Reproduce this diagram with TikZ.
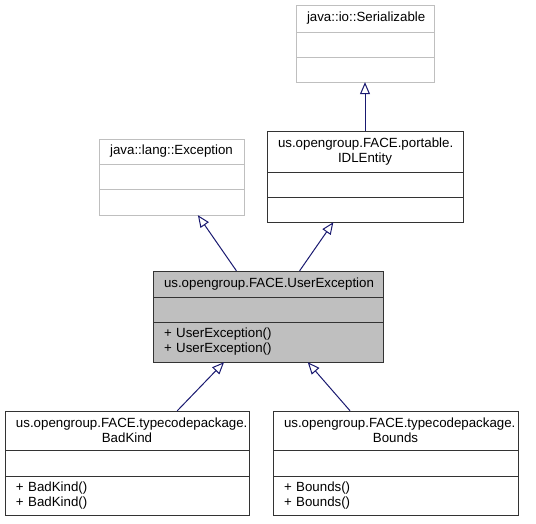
\documentclass[tikz,border=0pt]{standalone}
\usepackage{fontspec}
\setmainfont{Liberation Sans}
\usetikzlibrary{positioning, fit, arrows.meta}
\definecolor{midnightblue}{RGB}{25,25,112}
\newcommand{\extborder}{black!25}
\newcommand{\curfill}{black!25}
\newcommand{\clsborder}{black!80}

\begin{document}
\begin{tikzpicture}[
      % GLOBAL CFG
      x=1pt, y=-1pt,
      font=\fontsize{13.3}{15}\selectfont,
      % Styles
      compartment/.style={% For the parts of a class
        rectangle,
        draw=\clsborder,
        line width=1pt,
        outer sep=0pt,
        inner xsep=11pt,
        inner ysep=0pt
      },
      classname/.style={% For the name part
        compartment,
        align=center,
        anchor=north
      },
      methods/.style={% For the operations part
        compartment,
        align=left
      },
      external/.style={% For classes outside the project
        draw=\extborder
      },
      current/.style={% For the documented class
        fill=\curfill
      },
      inherit/.style={% Arrows for inheritance
        midnightblue,
        line width=1pt,
        -{Triangle[open, length=12pt, width=10pt]}
      }
      ]

      \useasboundingbox (0,0) rectangle (536,523);

      % Start drawing the thing...
      % java::io::Serializable
      \node [classname, external, text width=116pt, minimum height=27pt] (serialname) at (365,5) {java::io::Serializable};
      \node [compartment, external, text width=116pt, minimum height=25pt, below=0pt of serialname] (serialattr) {};
      \node [compartment, external, text width=116pt, minimum height=25pt, below=0pt of serialattr] (serialops) {};
      \node [fit=(serialname)(serialops), inner sep=0pt] (serial) {};

      % us.opengroup.FACE.portable.IDLEntity
      \node [classname, text width=174pt, minimum height=41pt] (idlname) at (365,131) {us.opengroup.FACE.portable.\\IDLEntity};
      \node [compartment, text width=174pt, minimum height=25pt, below=0pt of idlname] (idlattr) {};
      \node [compartment, text width=174pt, minimum height=25pt, below=0pt of idlattr] (idlops) {};
      \node [fit=(idlname)(idlops), inner sep=0pt] (idl) {};

      % java::lang::Exception
      \node [classname, external, text width=123pt, minimum height=25pt] (excname) at (171.5,139) {java::lang::Exception};
      \node [compartment, external, text width=123pt, minimum height=25pt, below=0pt of excname] (excattr) {};
      \node [compartment, external, text width=123pt, minimum height=26pt, below=0pt of excattr] (excops) {};
      \node [fit=(excname)(excops), inner sep=0pt] (exc) {};

      % us.opengroup.FACE.UserException
      \node [classname, current, text width=208pt, minimum height=26pt] (username) at (268,271) {us.opengroup.FACE.UserException};
      \node [compartment, current, text width=208pt, minimum height=25pt, below=0pt of username] (userattr) {};
      \node [methods, current, text width=208pt, minimum height=40pt, below=0pt of userattr] (userops) {+ UserException()\\+ UserException()};
      \node [fit=(username)(userops), inner sep=0pt] (userexc) {};

      % us.opengroup.FACE.typecodepackage.BadKind
      \node [classname, text width=222pt, minimum height=39pt] (badname) at (127,411) {us.opengroup.FACE.typecodepackage.\\BadKind};
      \node [compartment, text width=222pt, minimum height=26pt, below=0pt of badname] (badattr) {};
      \node [methods, text width=222pt, minimum height=39pt, below=0pt of badattr] (badops) {+ BadKind()\\+ BadKind()};
      \node [fit=(badname)(badops), inner sep=0pt] (badkind) {};

      % us.opengroup.FACE.typecodepackage.Bounds
      \node [classname, text width=223pt, minimum height=39pt] (boundsname) at (395.5,411) {us.opengroup.FACE.typecodepackage.\\Bounds};
      \node [compartment, text width=223pt, minimum height=26pt, below=0pt of boundsname] (boundsattr) {};
      \node [methods, text width=223pt, minimum height=39pt, below=0pt of boundsattr] (boundsops) {+ Bounds()\\+ Bounds()};
      \node [fit=(boundsname)(boundsops), inner sep=0pt] (bounds) {};

      % Inheritance
      \draw [inherit] (idl) -- (serial);
      \draw [inherit] (userexc) -- (exc);
      \draw [inherit] (userexc) -- (idl);
      \draw [inherit] (badkind) -- (userexc);
      \draw [inherit] (bounds) -- (userexc);
    \end{tikzpicture}
\end{document}
